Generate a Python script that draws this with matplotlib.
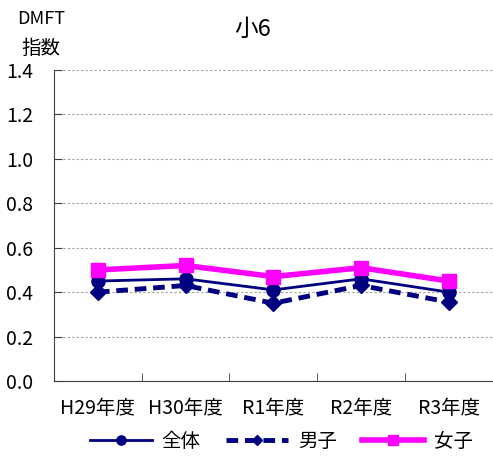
import numpy as np
import matplotlib
matplotlib.use("Agg")
import matplotlib.pyplot as plt

plt.rcParams['font.family'] = ['Noto Sans CJK JP', 'DejaVu Sans']

years = ["H29年度", "H30年度", "R1年度", "R2年度", "R3年度"]
total = [0.45, 0.46, 0.41, 0.46, 0.40]
boys = [0.40, 0.43, 0.35, 0.43, 0.355]
girls = [0.50, 0.52, 0.47, 0.51, 0.45]

navy = "#000080"
magenta = "#FF00FF"

fig = plt.figure(figsize=(4.93, 4.57), dpi=100)
ax = fig.add_axes([0.1095, 0.1663, 0.89, 0.6805])

x = np.arange(len(years))
ax.plot(x, total, color=navy, lw=2, marker="o", ms=9.5, label="全体", zorder=4)
ax.plot(x, boys, color=navy, lw=3.5, ls=(0, (2.4, 1.4)), marker="D", ms=8,
        label="男子", zorder=3)
ax.plot(x, girls, color=magenta, lw=4, marker="s", ms=10, label="女子", zorder=5)

ax.set_xlim(-0.5, 4.5)
ax.set_ylim(0, 1.4)
ax.set_yticks(np.arange(0, 1.41, 0.2))
ax.set_yticklabels([f"{v:.1f}" for v in np.arange(0, 1.41, 0.2)])
ax.set_xticks(x)
ax.set_xticklabels(years)
ax.set_xticks(np.arange(-0.5, 4.6, 1), minor=True)
ax.tick_params(axis="x", which="major", length=0, pad=12, labelsize=14)
ax.tick_params(axis="x", which="minor", direction="in", length=6, color="#404040")
ax.tick_params(axis="y", direction="in", length=6, pad=15, labelsize=14,
               color="#404040")
ax.yaxis.grid(True, ls=(0, (2, 2)), color="#a0a0a0", lw=0.8)
for s in ["top", "right"]:
    ax.spines[s].set_visible(False)
for s in ["left", "bottom"]:
    ax.spines[s].set_color("#404040")

fig.text(0.513, 0.935, "小6", ha="center", va="center", fontsize=17)
fig.text(0.083, 0.958, "DMFT", ha="center", va="center", fontsize=13)
fig.text(0.083, 0.895, "指数", ha="center", va="center", fontsize=14)

leg = ax.legend(loc="center", ncol=3, frameon=False, fontsize=14,
                handlelength=3.2, columnspacing=1.3, handletextpad=0.5,
                markerscale=0.7)
leg.set_bbox_to_anchor((0.571, 0.035), transform=fig.transFigure)

fig.savefig("out.png", dpi=100)
